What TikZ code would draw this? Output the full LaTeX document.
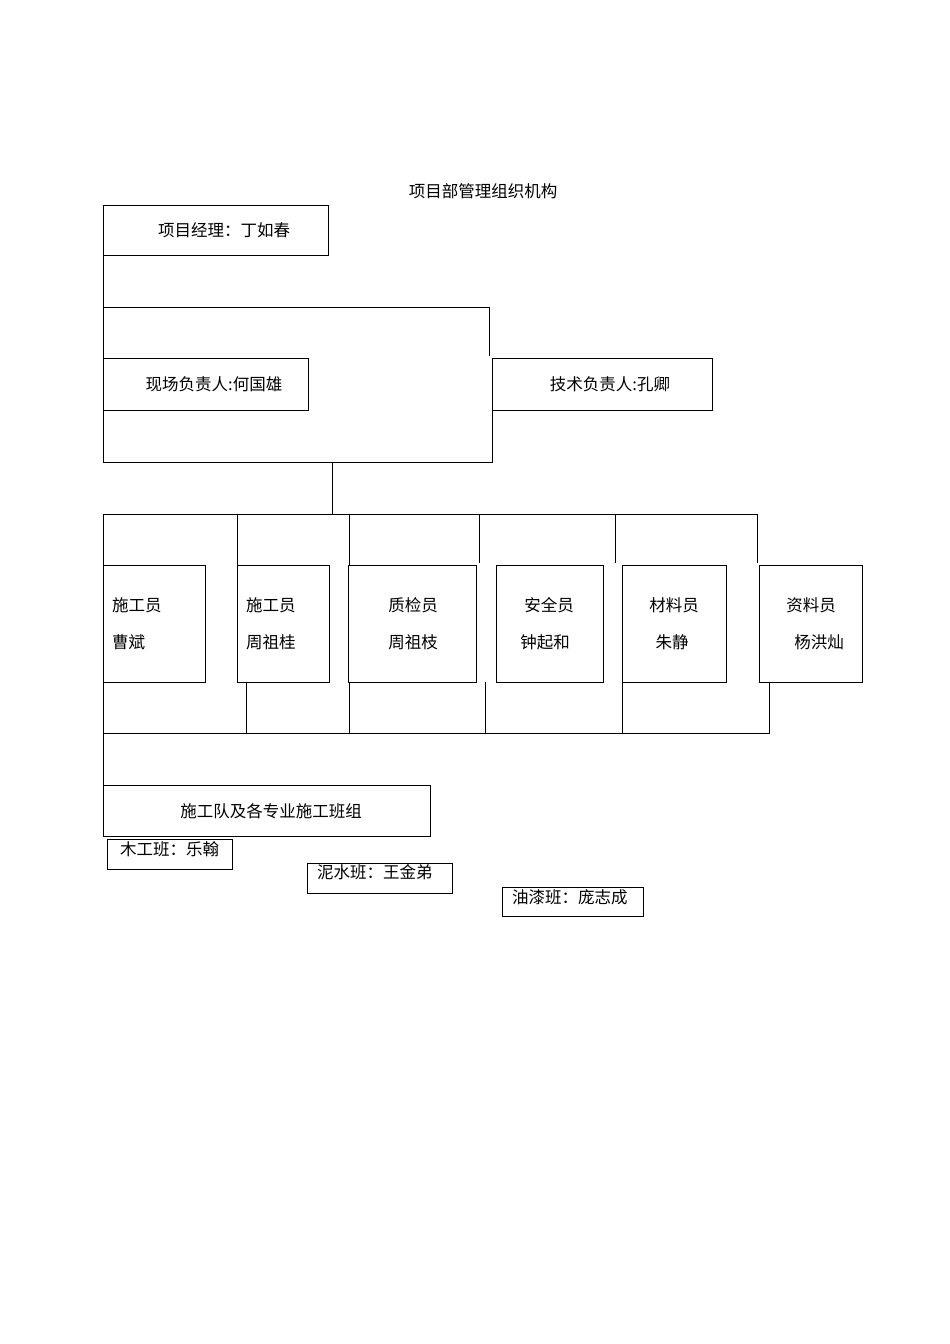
\documentclass[tikz,border=0pt]{standalone}
\usepackage{fontspec}
\setmainfont{Noto Sans CJK SC}
\begin{document}
\begin{tikzpicture}[x=1pt,y=-1pt,
  every node/.style={font=\fontsize{16.5}{19}\selectfont, inner sep=0pt, outer sep=0pt},
  box/.style={draw, line width=0.9pt, anchor=north west},
  ln/.style={line width=0.9pt}]
\useasboundingbox (0,0) rectangle (950,1344);
% title
\node (title) at (483,191) {项目部管理组织机构};
% top boxes
\node[box, minimum width=225pt, minimum height=50pt] (pm) at (103,205) {};
\node (pmt) at (224,230) {项目经理：丁如春};
\node[box, minimum width=205pt, minimum height=52pt] (site) at (103,358) {};
\node (sitet) at (214,384) {现场负责人:何国雄};
\node[box, minimum width=220pt, minimum height=52pt] (tech) at (492,358) {};
\node (techt) at (610,384) {技术负责人:孔卿};
% connectors top
\coordinate (j1) at (103,307);
\coordinate (j2) at (489,356);
\coordinate (j3) at (492,462);
\coordinate (j4) at (332,462);
\coordinate (j5) at (332,514);
\draw[ln] (pm.south west) -- (site.north west);
\draw[ln] (j1) -| (j2);
\draw[ln] (site.south west) |- (j3) -- (tech.south west);
\draw[ln] (j4) -- (j5);
% middle boxes
\node[box, minimum width=102pt, minimum height=117pt] (b1) at (103,565) {};
\node[box, minimum width=92pt, minimum height=117pt] (b2) at (237,565) {};
\node[box, minimum width=128pt, minimum height=117pt] (b3) at (348,565) {};
\node[box, minimum width=107pt, minimum height=117pt] (b4) at (496,565) {};
\node[box, minimum width=104pt, minimum height=117pt] (b5) at (622,565) {};
\node[box, minimum width=103pt, minimum height=117pt] (b6) at (759,565) {};
\node[anchor=west] (b1a) at (112,605) {施工员};
\node[anchor=west] (b1b) at (112,642) {曹斌};
\node[anchor=west] (b2a) at (246,605) {施工员};
\node[anchor=west] (b2b) at (246,642) {周祖桂};
\node (b3a) at (413,605) {质检员};
\node (b3b) at (413,642) {周祖枝};
\node (b4a) at (549,605) {安全员};
\node (b4b) at (545,642) {钟起和};
\node (b5a) at (674,605) {材料员};
\node (b5b) at (672,642) {朱静};
\node (b6a) at (811,605) {资料员};
\node (b6b) at (819,642) {杨洪灿};
% top distribution bus
\coordinate (u2) at (237,514);
\coordinate (u3) at (349,514);
\coordinate (u3b) at (349,565);
\coordinate (u4) at (479,514);
\coordinate (u4b) at (479,563);
\coordinate (u5) at (615,514);
\coordinate (u5b) at (615,563);
\coordinate (u6) at (757,514);
\coordinate (u6b) at (757,563);
\draw[ln] (b1.north west) |- (u6) -- (u6b);
\draw[ln] (u2) -- (b2.north west);
\draw[ln] (u3) -- (u3b);
\draw[ln] (u4) -- (u4b);
\draw[ln] (u5) -- (u5b);
% bottom bus
\coordinate (d2) at (246,682);
\coordinate (d2b) at (246,733);
\coordinate (d3) at (349,682);
\coordinate (d3b) at (349,733);
\coordinate (d4) at (485,682);
\coordinate (d4b) at (485,733);
\coordinate (d5b) at (622,733);
\coordinate (d6) at (769,682);
\coordinate (d6b) at (769,733);
\draw[ln] (b1.south west) |- (d6b) -- (d6);
\draw[ln] (d2) -- (d2b);
\draw[ln] (d3) -- (d3b);
\draw[ln] (d4) -- (d4b);
\draw[ln] (b5.south west) -- (d5b);
% teams
\node[box, minimum width=327pt, minimum height=51pt] (team) at (103,785) {};
\node (teamt) at (271,811) {施工队及各专业施工班组};
\draw[ln] (b1.south west) -- (team.north west);
\node[box, line width=0.8pt, minimum width=125pt, minimum height=30pt] (c1) at (107,839) {};
\node[anchor=west] (c1t) at (120,849) {木工班：乐翰};
\node[box, line width=0.8pt, minimum width=145pt, minimum height=30pt] (c2) at (307,863) {};
\node[anchor=west] (c2t) at (317,872) {泥水班：王金弟};
\node[box, line width=0.8pt, minimum width=141pt, minimum height=29pt] (c3) at (502,887) {};
\node[anchor=west] (c3t) at (512,897) {油漆班：庞志成};
\end{tikzpicture}
\end{document}
